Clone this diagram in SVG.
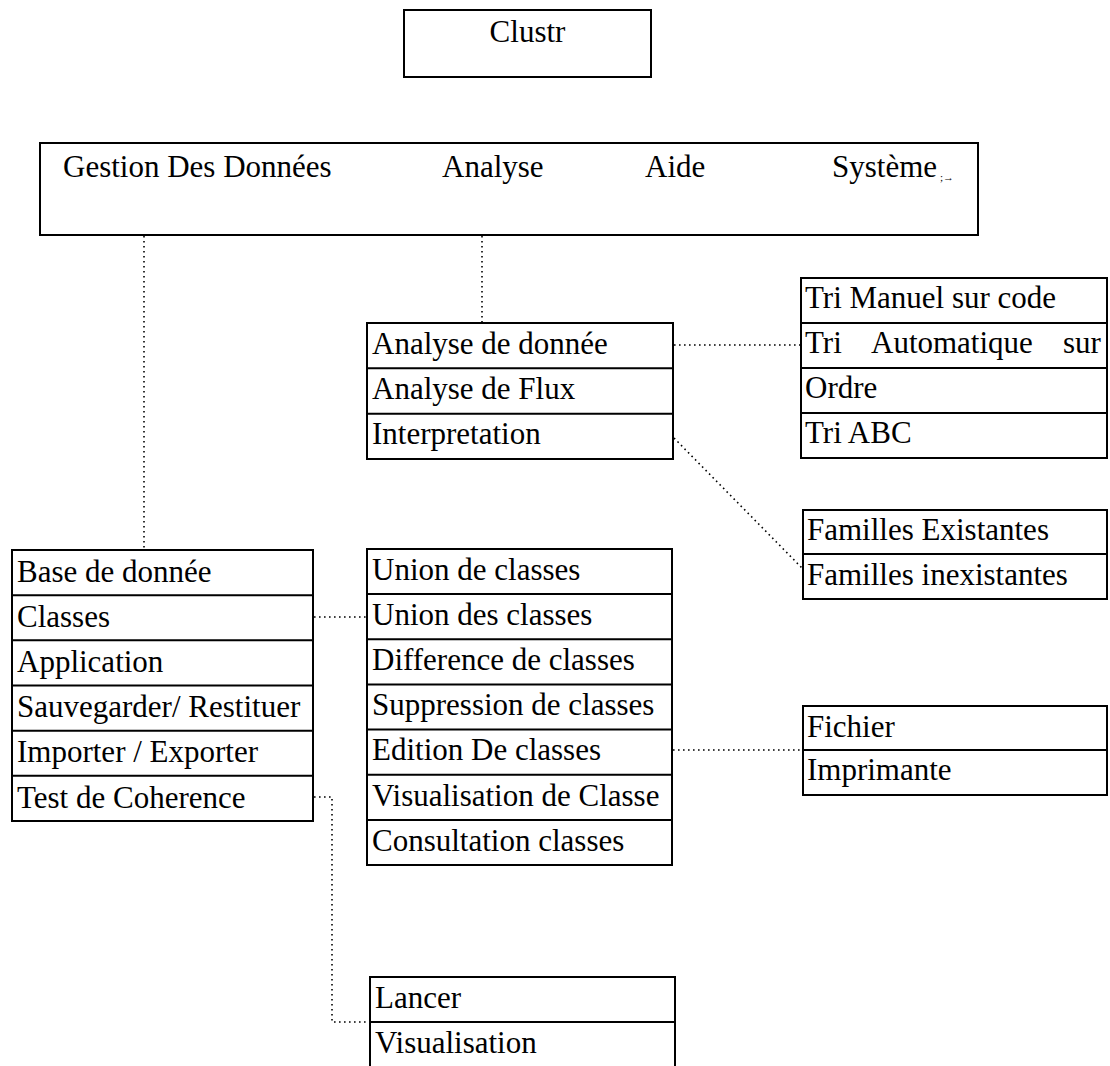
<svg xmlns="http://www.w3.org/2000/svg" width="1110" height="1066" viewBox="0 0 1110 1066">
<style>
.box{fill:#fff;stroke:#000;stroke-width:2}
.sep{stroke:#000;stroke-width:2}
.t{font-family:"Liberation Serif","Times New Roman",serif;font-size:31px;fill:#000}
.conn{fill:none;stroke:#000;stroke-width:1.6;stroke-dasharray:1.6 3.4}
</style>
<rect width="1110" height="1066" fill="#fff"/>
<g id="connectors">
<path class="conn" d="M144 236V549"/>
<path class="conn" d="M482 236V322"/>
<path class="conn" d="M674 345H800"/>
<path class="conn" d="M674 438L802 568"/>
<path class="conn" d="M314 617H366"/>
<path class="conn" d="M673 750H802"/>
<path class="conn" d="M314 797H332V1022H369"/>
</g>
<g id="clustr">
<rect class="box" x="404" y="10" width="247" height="67"/>
<text class="t" x="527.5" y="42" text-anchor="middle">Clustr</text>
</g>
<g id="menu-bar">
<rect class="box" x="40" y="143" width="938" height="92"/>
<text class="t" x="63" y="177">Gestion Des Données</text>
<text class="t" x="442" y="177">Analyse</text>
<text class="t" x="645" y="177">Aide</text>
<text class="t" x="832" y="177">Système</text>
<text x="940" y="181" style="font-family:'Liberation Serif',serif;font-size:11px">;→</text>
</g>
<g id="menu-analyse">
<rect class="box" x="367" y="323" width="306" height="136"/>
<path class="sep" d="M367 368.3H673M367 413.7H673"/>
<text class="t" x="372" y="354">Analyse de donnée</text>
<text class="t" x="372" y="399">Analyse de Flux</text>
<text class="t" x="372" y="444">Interpretation</text>
</g>
<g id="menu-tri">
<rect class="box" x="801" y="278" width="306" height="180"/>
<path class="sep" d="M801 323H1107M801 368H1107M801 413H1107"/>
<text class="t" x="805" y="308">Tri Manuel sur code</text>
<text class="t" y="353"><tspan x="805">Tri</tspan><tspan x="871">Automatique</tspan><tspan x="1063">sur</tspan></text>
<text class="t" x="805" y="398">Ordre</text>
<text class="t" x="805" y="443">Tri ABC</text>
</g>
<g id="menu-familles">
<rect class="box" x="803" y="510" width="304" height="89"/>
<path class="sep" d="M803 554H1107"/>
<text class="t" x="807" y="540">Familles Existantes</text>
<text class="t" x="807" y="585">Familles inexistantes</text>
</g>
<g id="menu-gestion">
<rect class="box" x="12" y="550" width="301" height="271"/>
<path class="sep" d="M12 595.2H313M12 640.3H313M12 685.5H313M12 730.7H313M12 775.8H313"/>
<text class="t" x="17" y="582">Base de donnée</text>
<text class="t" x="17" y="627">Classes</text>
<text class="t" x="17" y="672">Application</text>
<text class="t" x="17" y="717">Sauvegarder/ Restituer</text>
<text class="t" x="17" y="762">Importer / Exporter</text>
<text class="t" x="17" y="808">Test de Coherence</text>
</g>
<g id="menu-classes">
<rect class="box" x="367" y="549" width="305" height="316"/>
<path class="sep" d="M367 594.1H672M367 639.3H672M367 684.4H672M367 729.6H672M367 774.7H672M367 819.9H672"/>
<text class="t" x="372" y="580">Union de classes</text>
<text class="t" x="372" y="625">Union des classes</text>
<text class="t" x="372" y="670">Difference de classes</text>
<text class="t" x="372" y="715">Suppression de classes</text>
<text class="t" x="372" y="760">Edition De classes</text>
<text class="t" x="372" y="806">Visualisation de Classe</text>
<text class="t" x="372" y="851">Consultation classes</text>
</g>
<g id="menu-edition">
<rect class="box" x="803" y="706" width="304" height="89"/>
<path class="sep" d="M803 750H1107"/>
<text class="t" x="807" y="737">Fichier</text>
<text class="t" x="807" y="780">Imprimante</text>
</g>
<g id="menu-test">
<rect class="box" x="370" y="977" width="305" height="96"/>
<path class="sep" d="M370 1022H675"/>
<text class="t" x="375" y="1008">Lancer</text>
<text class="t" x="375" y="1053">Visualisation</text>
</g>
</svg>
